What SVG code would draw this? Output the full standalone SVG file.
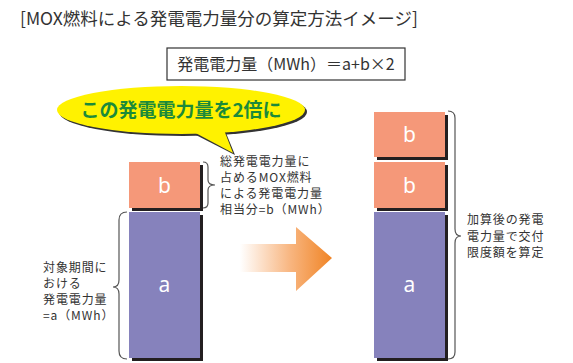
<svg xmlns="http://www.w3.org/2000/svg" width="573" height="363" viewBox="0 0 573 363">
<style>
text{font-family:"Noto Sans CJK JP","Noto Sans",sans-serif;fill:#333;}
.title{font-size:17.5px;}
.formula{font-size:16px;}
.note{font-size:12px;letter-spacing:0.9px;}
.bar-label{font-size:21px;fill:#fff;text-anchor:middle;font-family:"Noto Sans","Noto Sans CJK JP",sans-serif;}
.shadow{fill:#231f20;}
.b{fill:#f59879;}
.a{fill:#8682bc;}
.brace{fill:none;stroke:#555;stroke-width:1.2;}
.callout{font-size:19px;font-weight:bold;fill:#1b8a3a;}
</style>
<defs>
<linearGradient id="arrowGrad" x1="240" y1="0" x2="332" y2="0" gradientUnits="userSpaceOnUse">
<stop offset="0" stop-color="#ffffff"/>
<stop offset="0.55" stop-color="#f8b57f"/>
<stop offset="1" stop-color="#f08425"/>
</linearGradient>
</defs>
<rect width="573" height="363" fill="#fff"/>
<text id="title" class="title" x="20" y="25">[MOX燃料による発電電力量分の算定方法イメージ]</text>
<g id="formula">
<rect x="167" y="48" width="238" height="32" fill="#fff" stroke="#333" stroke-width="1.2"/>
<text class="formula" x="286" y="70" text-anchor="middle">発電電力量（MWh）＝a+b×2</text>
</g>
<g id="callout">
<g transform="translate(2,2)" fill="#333">
<ellipse cx="181" cy="110" rx="124" ry="24"/>
<polygon points="190,131 233,153 224,131"/>
</g>
<ellipse cx="181" cy="110" rx="124" ry="24" fill="#fff200"/>
<polygon points="190,130 233,153 224,130" fill="#fff200"/>
<text class="callout" x="181" y="117" text-anchor="middle">この発電電力量を2倍に</text>
</g>
<g id="left-b">
<rect class="shadow" x="132" y="165" width="71" height="46"/>
<rect class="b" x="129" y="162" width="71" height="46"/>
<text class="bar-label" x="164.5" y="193">b</text>
</g>
<g id="left-a">
<rect class="shadow" x="132" y="215" width="71" height="146"/>
<rect class="a" x="129" y="212" width="71" height="146"/>
<text class="bar-label" x="164.5" y="292">a</text>
</g>
<g id="right-b1">
<rect class="shadow" x="377" y="115" width="71" height="45"/>
<rect class="b" x="374" y="112" width="71" height="45"/>
<text class="bar-label" x="409.5" y="142">b</text>
</g>
<g id="right-b2">
<rect class="shadow" x="377" y="165" width="71" height="46"/>
<rect class="b" x="374" y="162" width="71" height="46"/>
<text class="bar-label" x="409.5" y="193">b</text>
</g>
<g id="right-a">
<rect class="shadow" x="377" y="215" width="71" height="146"/>
<rect class="a" x="374" y="212" width="71" height="146"/>
<text class="bar-label" x="409.5" y="292">a</text>
</g>
<g id="arrow">
<polygon points="240,244 296,244 296,227 332,258 296,291 296,272 240,272" fill="url(#arrowGrad)"/>
</g>
<g id="connectors">
<path class="brace" d="M203,162 Q208,162 208,167 L208,180 Q208,185 215,185 Q208,185 208,190 L208,203 Q208,208 203,208"/>
<path class="brace" d="M127,212 Q119,212 119,220 L119,280 Q119,287 113,287 Q119,287 119,294 L119,351 Q119,359 127,359"/>
<path class="brace" d="M448,111 Q455,111 455,118 L455,229 Q455,236 461,236 Q455,236 455,243 L455,352 Q455,359 448,359"/>
</g>
<g id="note-b">
<text class="note" x="220" y="166">総発電電力量に</text>
<text class="note" x="220" y="182">占めるMOX燃料</text>
<text class="note" x="220" y="198">による発電電力量</text>
<text class="note" x="220" y="214">相当分=b（MWh）</text>
</g>
<g id="note-a">
<text class="note" x="43" y="272">対象期間に</text>
<text class="note" x="43" y="288">おける</text>
<text class="note" x="43" y="304">発電電力量</text>
<text class="note" x="43" y="320">=a（MWh）</text>
</g>
<g id="note-total">
<text class="note" x="467" y="224">加算後の発電</text>
<text class="note" x="467" y="241">電力量で交付</text>
<text class="note" x="467" y="257">限度額を算定</text>
</g>
</svg>
